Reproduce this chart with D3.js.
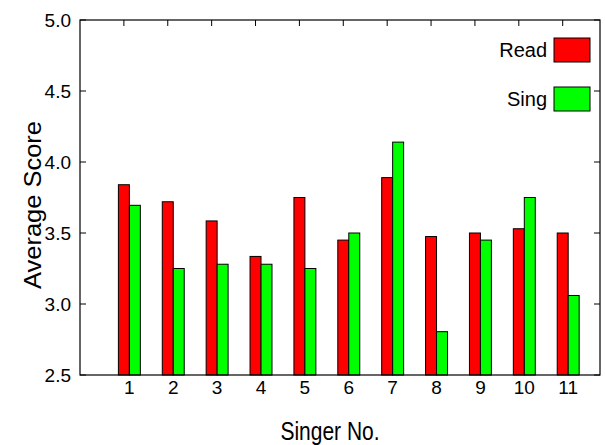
<!DOCTYPE html>
<html>
<head>
  <meta charset="UTF-8">
  <style>
    body { margin: 0; background: #fff; }
    svg { display: block; font-family: "Liberation Sans", Arial, sans-serif; }
  </style>
</head>
<body>
<svg></svg>
<script src="https://d3js.org/d3.v7.min.js"></script>
<script>

let width = 605, height = 445;

// data
let singers = [1, 2, 3, 4, 5, 6, 7, 8, 9, 10, 11];
let readScores = [3.84, 3.72, 3.585, 3.335, 3.75, 3.45, 3.89, 3.475, 3.50, 3.53, 3.50];
let singScores = [3.695, 3.25, 3.28, 3.28, 3.25, 3.50, 4.14, 2.805, 3.45, 3.75, 3.06];
let yTicks = [2.5, 3.0, 3.5, 4.0, 4.5, 5.0];
let seriesNames = ["Read", "Sing"];
let seriesColors = ["#ff0000", "#00ff00"];

let svg = d3.select("svg")
    .attr("width", width)
    .attr("height", height);

let pLeft = 80, pRight = 600, pTop = 20, pBottom = 375;

let x = d3.scaleLinear().domain([0, 11.85]).range([pLeft, pRight]);
let y = d3.scaleLinear().domain([2.5, 5.0]).range([pBottom, pTop]);
let bw = x(0.25) - x(0);

// bars
let series = [readScores, singScores];
series.forEach((vals, s) => {
    svg.append("g")
        .selectAll("rect")
        .data(vals)
        .enter()
        .append("rect")
        .attr("x", (d, i) => x(singers[i] - 0.125 + s * 0.25))
        .attr("y", d => y(d))
        .attr("width", bw)
        .attr("height", d => y(2.5) - y(d))
        .attr("fill", seriesColors[s])
        .attr("stroke", "#000")
        .attr("stroke-width", 1);
});

// frame
svg.append("rect")
    .attr("x", pLeft).attr("y", pTop)
    .attr("width", pRight - pLeft).attr("height", pBottom - pTop)
    .attr("fill", "none").attr("stroke", "#000").attr("stroke-width", 1.2);

// y ticks, both sides, inward
yTicks.forEach(t => {
    svg.append("line").attr("x1", pLeft).attr("x2", pLeft + 6)
        .attr("y1", y(t)).attr("y2", y(t)).attr("stroke", "#000");
    svg.append("line").attr("x1", pRight).attr("x2", pRight - 6)
        .attr("y1", y(t)).attr("y2", y(t)).attr("stroke", "#000");
    svg.append("text")
        .attr("x", 71).attr("y", y(t) + 7)
        .attr("text-anchor", "end")
        .attr("font-size", 19)
        .text(d3.format(".1f")(t));
});

// x ticks (top mirror) and labels
singers.forEach(s => {
    svg.append("line").attr("x1", x(s)).attr("x2", x(s))
        .attr("y1", pTop).attr("y2", pTop + 6).attr("stroke", "#000");
    svg.append("text")
        .attr("x", x(s + 0.125)).attr("y", 394)
        .attr("text-anchor", "middle")
        .attr("font-size", 19)
        .text(s);
});

// axis titles (slightly stretched vertically like the original)
svg.append("text")
    .attr("transform", "translate(330,440) scale(1,1.2)")
    .attr("text-anchor", "middle")
    .attr("font-size", 21)
    .text("Singer No.");

svg.append("text")
    .attr("transform", "translate(41,205) rotate(-90)")
    .attr("text-anchor", "middle")
    .attr("font-size", 23)
    .attr("textLength", 168)
    .attr("lengthAdjust", "spacingAndGlyphs")
    .text("Average Score");

// legend
seriesNames.forEach((n, i) => {
    let ly = 38 + i * 49;
    svg.append("rect")
        .attr("x", 554).attr("y", ly)
        .attr("width", 36).attr("height", 24)
        .attr("fill", seriesColors[i]).attr("stroke", "#000");
    svg.append("text")
        .attr("x", 547).attr("y", ly + 19)
        .attr("text-anchor", "end")
        .attr("font-size", 20)
        .text(n);
});

</script>
</body>
</html>
